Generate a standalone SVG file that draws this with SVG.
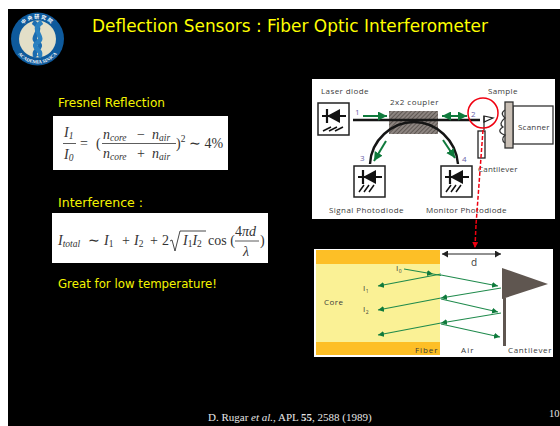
<svg xmlns="http://www.w3.org/2000/svg" xmlns:xlink="http://www.w3.org/1999/xlink" width="560" height="426" viewBox="0 0 560 426">
<style>
.y{font-family:"DejaVu Sans",sans-serif;fill:#f4f400}
.f{font-family:"Liberation Serif",serif;fill:#333;font-size:14px}
.i{font-style:italic}
.s{font-size:9.5px}
.l{font-family:"Open Sans","DejaVu Sans",sans-serif;fill:#3a3a3a;font-size:8px;letter-spacing:.5px}
.n{font-family:"Open Sans",sans-serif;fill:#6a5fa8;font-size:8px}
.gr{stroke:#1f8a4c;stroke-width:1.1;fill:none}
.gb{stroke:#0f7a3c;stroke-width:2;fill:none}
.k{stroke:#151515;fill:none}
.box{fill:#fff;stroke:#222;stroke-width:1.5}
</style>
<defs>
<marker id="g" markerWidth="8" markerHeight="8" refX="6" refY="3" orient="auto" markerUnits="userSpaceOnUse"><path d="M0 0L6 3L0 6z" fill="#0f7a3c"/></marker>
<marker id="big" markerWidth="12" markerHeight="12" refX="9" refY="4.5" orient="auto" markerUnits="userSpaceOnUse"><path d="M0 0L9 4.5L0 9z" fill="#0f7a3c"/></marker>
<marker id="bigs" markerWidth="12" markerHeight="12" refX="0" refY="4.5" orient="auto" markerUnits="userSpaceOnUse"><path d="M9 0L0 4.5L9 9z" fill="#0f7a3c"/></marker>
<marker id="kk" markerWidth="8" markerHeight="8" refX="6" refY="3.5" orient="auto" markerUnits="userSpaceOnUse"><path d="M0 0L6 3.5L0 7z" fill="#222"/></marker>
<marker id="ks" markerWidth="8" markerHeight="8" refX="0" refY="3.5" orient="auto" markerUnits="userSpaceOnUse"><path d="M6 0L0 3.5L6 7z" fill="#222"/></marker>
<marker id="rd" markerWidth="8" markerHeight="8" refX="5" refY="3" orient="auto" markerUnits="userSpaceOnUse"><path d="M0 0L6 3L0 6z" fill="#f00010"/></marker>
<pattern id="hatch" width="3" height="3" patternUnits="userSpaceOnUse" patternTransform="rotate(-45)"><rect width="3" height="3" fill="#8c8480"/><rect width="3" height="1" fill="#5f5854"/></pattern>
<g id="diode"><path d="M-12 0H12M-7 -7V7" stroke="#111" stroke-width="2.200" fill="none"/><path d="M-7 0L6 -7V7z" fill="#111"/></g>
<path id="top" d="M17 39A20.500 20.500 0 0 1 58 39"/>
<path id="bot" d="M13 39A24.500 24.500 0 0 0 62 39"/>
</defs>
<rect width="560" height="426" fill="#fff"/>
<rect x="8" y="9" width="552" height="417" fill="#000"/>

<g id="logo">
<circle cx="37.500" cy="39" r="26.500" fill="#0e5a9c"/>
<circle cx="37.500" cy="39" r="18.500" fill="#e3dfc8"/>
<path d="M33 22C46 30 29 37 37 42C46 48 30 50 36 57" stroke="#1c6cb0" stroke-width="4.500" fill="none"/>
<path d="M42 22C29 30 46 37 38 42C29 48 45 50 39 57" stroke="#2a80c0" stroke-width="4.500" fill="none"/>
<text font-family="Noto Sans CJK TC,sans-serif" font-size="5" fill="#fff" font-weight="bold" letter-spacing="1.500"><textPath xlink:href="#top" href="#top" startOffset="50%" text-anchor="middle">中央研究院</textPath></text>
<text font-family="Liberation Serif,serif" font-size="4.800" fill="#fff" font-weight="bold"><textPath xlink:href="#bot" href="#bot" startOffset="50%" text-anchor="middle">ACADEMIA SINICA</textPath></text>
</g>

<g id="title"><text class="y" x="92" y="32" font-size="17" style="fill:#ffff00" textLength="396" lengthAdjust="spacingAndGlyphs">Deflection Sensors : Fiber Optic Interferometer</text></g>
<g id="heading-fresnel"><text class="y" x="58" y="107" font-size="12" textLength="107" lengthAdjust="spacingAndGlyphs">Fresnel Reflection</text></g>

<g id="formula-fresnel">
<rect x="53" y="116" width="175" height="54" fill="#fff"/>
<text class="f i" x="64" y="137">I<tspan class="s" dy="2">1</tspan></text>
<path d="M63 143.500H76M102 143.500H176" stroke="#333" stroke-width=".8"/>
<text class="f i" x="64" y="159">I<tspan class="s" dy="2">0</tspan></text>
<text class="f" x="80" y="148">=</text>
<text class="f" x="96" y="148">(</text>
<text class="f" x="103" y="139"><tspan class="i">n</tspan><tspan class="s i" dy="2">core</tspan><tspan dy="-2" x="137">−</tspan><tspan class="i" x="152">n</tspan><tspan class="s i" dy="2">air</tspan></text>
<text class="f" x="103" y="158"><tspan class="i">n</tspan><tspan class="s i" dy="2">core</tspan><tspan dy="-2" x="137">+</tspan><tspan class="i" x="152">n</tspan><tspan class="s i" dy="2">air</tspan></text>
<text class="f" x="176" y="148">)<tspan class="s" dy="-6">2</tspan><tspan dy="6"> ∼ 4%</tspan></text>
</g>

<g id="heading-interference"><text class="y" x="58" y="207" font-size="12" textLength="85" lengthAdjust="spacingAndGlyphs">Interference :</text></g>

<g id="formula-interference">
<rect x="52" y="213" width="216" height="50" fill="#fff"/>
<text class="f" y="245"><tspan class="i" x="58">I</tspan><tspan class="s i" dy="2">total</tspan><tspan dy="-2" x="88">∼</tspan><tspan class="i" x="104">I</tspan><tspan class="s" dy="2">1</tspan><tspan dy="-2" x="122">+</tspan><tspan class="i" x="134">I</tspan><tspan class="s" dy="2">2</tspan><tspan dy="-2" x="150">+</tspan><tspan x="162">2</tspan></text>
<path d="M170 241L172 240L175 251L180 231H206" stroke="#333" stroke-width=".9" fill="none"/>
<text class="f" x="183" y="245"><tspan class="i">I</tspan><tspan class="s" dy="2">1</tspan><tspan class="i" dy="-2">I</tspan><tspan class="s" dy="2">2</tspan></text>
<text class="f" x="208" y="245">cos (</text>
<text class="f" x="235" y="236">4<tspan class="i">πd</tspan></text>
<path d="M235 241H259" stroke="#333" stroke-width=".8"/>
<text class="f i" x="243" y="256">λ</text>
<text class="f" x="260" y="245">)</text>
</g>

<g id="note"><text class="y" x="58" y="288" font-size="12" textLength="159" lengthAdjust="spacingAndGlyphs">Great for low temperature!</text></g>

<g id="setup">
<rect x="312" y="79" width="243" height="140" fill="#fff"/>
<text class="l" x="321" y="94" textLength="48">Laser diode</text>
<text class="l" x="390" y="105" textLength="49">2x2 coupler</text>
<text class="l" x="488" y="94" textLength="30">Sample</text>
<text class="l" x="329" y="213" textLength="75">Signal Photodiode</text>
<text class="l" x="426" y="213" textLength="81">Monitor Photodiode</text>
<text class="l" x="478" y="172" textLength="40">Cantilever</text>
<text class="n" x="355" y="115">1</text>
<text class="n" x="360" y="161">3</text>
<text class="n" x="462" y="162">4</text>
<text class="n" x="471" y="117">2</text>

<g id="laser-diode"><rect class="box" x="318" y="103" width="31" height="32"/><use href="#diode" x="334" y="116"/><path d="M323 131L331 127M329 131L337 127M335 131L343 127" stroke="#111" stroke-width="1.500"/></g>
<g id="signal-photodiode"><rect class="box" x="354" y="166" width="31" height="31"/><use href="#diode" x="370" y="177"/><path d="M359 192L364 185M364 192L369 185M369 192L374 185" stroke="#111" stroke-width="1.500"/></g>
<g id="monitor-photodiode"><rect class="box" x="441" y="166" width="31" height="31"/><use href="#diode" x="457" y="177"/><path d="M446 192L451 185M451 192L456 185M456 192L461 185" stroke="#111" stroke-width="1.500"/></g>
<g id="coupler"><rect x="389" y="111" width="49" height="23" fill="url(#hatch)"/></g>
<g id="connectors">
<path class="k" stroke-width="2.400" d="M353 120H480"/>
<path class="k" stroke-width="2.400" d="M370 164C371 140 392 122 414 122C436 122 456 140 458 164"/>
<path class="gb" d="M363 116H387" marker-end="url(#big)"/>
<path class="gb" d="M386 141L374 161" marker-end="url(#big)"/>
<path class="gb" d="M442 116H467" marker-start="url(#bigs)" marker-end="url(#big)"/>
<path class="gb" d="M443 140L455 158" marker-end="url(#big)"/>
</g>
<g id="cantilever"><path d="M484 116L493 118L484 122z" fill="#fff" stroke="#222" stroke-width="1.200"/><path d="M484 116V130" stroke="#222" stroke-width="1.200"/><rect x="478" y="131" width="7" height="27" fill="#fff" stroke="#222" stroke-width="1.300"/></g>
<g id="sample"><rect x="513" y="106" width="40" height="38" fill="#fff" stroke="#333" stroke-width="1.300"/><rect x="505" y="102" width="8" height="46" fill="#c9bfb5" stroke="#333" stroke-width="1.300"/><path d="M505 110C500 113 503 116 505 118C500 122 500 125 503 127C498 130 499 133 505 135C502 138 502 141 505 143" fill="none" stroke="#333" stroke-width="1.300"/><text class="l" x="518" y="130" textLength="32">Scanner</text></g>
<circle cx="483" cy="113" r="15" fill="none" stroke="#f00010" stroke-width="1.500"/>
</g>

<g id="zoom-detail">
<rect x="314" y="249" width="239" height="108" fill="#fff"/>
<rect x="316" y="250" width="124" height="105" fill="#faf195"/>
<rect x="316" y="250" width="124" height="14" fill="#fdbf26"/>
<rect x="316" y="342" width="124" height="13" fill="#fdbf26"/>
<g id="rays">
<path class="gr" d="M404 269L433 274L441 275.500" marker-mid="url(#g)"/>
<path class="gr" d="M441 274L378 286" marker-end="url(#g)"/>
<path class="gr" d="M441 275L498 286" marker-end="url(#g)"/>
<path class="gr" d="M501 288L441 298" marker-end="url(#g)"/>
<path class="gr" d="M441 298L378 310" marker-end="url(#g)"/>
<path class="gr" d="M441 299L498 312" marker-end="url(#g)"/>
<path class="gr" d="M501 313L441 323" marker-end="url(#g)"/>
<path class="gr" d="M441 323L378 335" marker-end="url(#g)"/>
<path class="gr" d="M441 324L500 337" marker-end="url(#g)"/>
</g>
<path d="M442 254H501" stroke="#222" stroke-width="1" marker-start="url(#ks)" marker-end="url(#kk)"/>
<g id="far-cantilever"><path d="M502 268L548 284L502 299z" fill="#5f5650"/><rect x="503" y="298" width="3" height="48" fill="#5f5650"/></g>
<text class="l" x="396" y="271">I<tspan font-size="5" dy="2">0</tspan></text>
<text class="l" x="363" y="291">I<tspan font-size="5" dy="2">1</tspan></text>
<text class="l" x="363" y="312">I<tspan font-size="5" dy="2">2</tspan></text>
<text class="l" x="324" y="305">Core</text>
<text class="l" x="415" y="353" textLength="23">Fiber</text>
<text class="l" x="461" y="353" textLength="13">Air</text>
<text class="l" x="508" y="353" textLength="44">Cantilever</text>
<text class="l" x="471" y="266" style="font-size:10px">d</text>
</g>

<g id="red-link">
<path d="M483 130L476 225" stroke="#f00010" stroke-width="1.500" stroke-dasharray="4 2" fill="none"/>
<path d="M476 225L475 247" stroke="#f00010" stroke-width="1.500" stroke-dasharray="4 2" marker-end="url(#rd)" fill="none"/>
</g>

<g id="footer">
<text font-family="Liberation Serif,serif" font-size="11" fill="#e6e6e6" x="208" y="421">D. Rugar <tspan font-style="italic">et al.</tspan>, APL <tspan font-weight="bold">55</tspan>, 2588 (1989)</text>
<text font-family="Liberation Serif,serif" font-size="10.500" fill="#e6e6e6" x="549" y="417">10</text>
</g>
</svg>
